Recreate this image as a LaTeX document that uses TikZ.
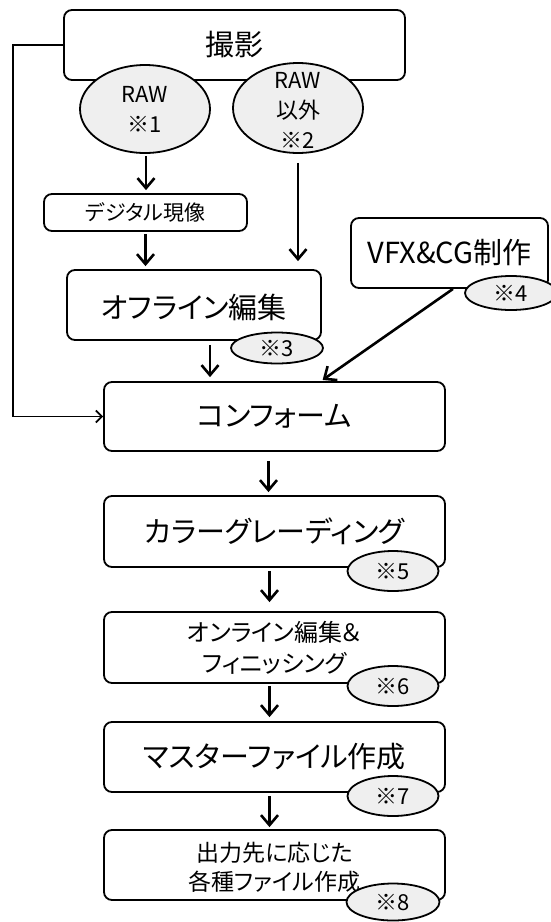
\documentclass[tikz,border=0pt]{standalone}
\usepackage{fontspec}
\setmainfont{Noto Sans CJK JP}[RawFeature=+palt]
\usetikzlibrary{shapes.geometric,arrows.meta}
\definecolor{ovalgray}{HTML}{EFEFEF}
\begin{document}
\begin{tikzpicture}[x=1pt,y=-1pt,
  box/.style={draw, line width=1.8pt, rounded corners=8pt, inner sep=0pt},
  oval/.style={draw, line width=1.8pt, ellipse, fill=ovalgray, inner sep=0pt},
  big/.style={font=\fontsize{29}{34}\selectfont},
  mid/.style={font=\fontsize{23}{29}\selectfont, align=center},
  small/.style={font=\fontsize{22}{30}\selectfont, align=center, inner sep=0pt},
  arr/.style={line width=2.6pt, -{Straight Barb[length=10pt,width=17pt,line width=2.6pt]}},
  thinarr/.style={line width=1.8pt, -{Straight Barb[length=6pt,width=12pt,line width=1.8pt]}}]
\useasboundingbox (0,0) rectangle (550,922);

% boxes
\node[box, minimum width=341pt, minimum height=70pt] (shoot) at (234.5,45) {};
\node[big] at (shoot.center) {撮影};
\node[box, minimum width=203pt, minimum height=37pt] (digi) at (145.5,212.5) {};
\node[font=\fontsize{21}{26}\selectfont] at (digi.center) {デジタル現像};
\node[box, minimum width=254pt, minimum height=70pt] (offline) at (194,305) {};
\node[big] at ([yshift=-2pt]offline.center) {オフライン編集};
\node[box, minimum width=197pt, minimum height=70pt] (vfx) at (449.5,253) {};
\node[big] at (vfx.center) {VFX\&CG制作};
\node[box, minimum width=341pt, minimum height=69pt] (conform) at (274.5,416.5) {};
\node[big] at (conform.center) {コンフォーム};
\node[box, minimum width=341pt, minimum height=71pt] (color) at (274.5,531.5) {};
\node[big] at (color.center) {カラーグレーディング};
\node[box, minimum width=341pt, minimum height=71pt] (online) at (274.5,647.5) {};
\node[mid, font=\fontsize{24}{31}\selectfont] at (online.center) {オンライン編集＆\\フィニッシング};
\node[box, minimum width=341pt, minimum height=70pt] (master) at (274.5,757) {};
\node[big] at (master.center) {マスターファイル作成};
\node[box, minimum width=341pt, minimum height=70pt] (output) at (274.5,865) {};
\node[mid] at ([yshift=-2pt]output.center) {出力先に応じた\\各種ファイル作成};

% ovals
\node[oval, minimum width=130pt, minimum height=88pt] (raw1) at (145,109) {};
\node[small] at (raw1.center) {RAW\\※1};
\node[oval, minimum width=130pt, minimum height=90pt] (raw2) at (298,108) {};
\node[small] at ([yshift=-2pt]raw2.center) {RAW\\以外\\※2};
\node[oval, minimum width=92pt, minimum height=31pt] (n3) at (277,348) {};
\node[small] at (n3.center) {※3};
\node[oval, minimum width=92pt, minimum height=34pt] (n4) at (511,293) {};
\node[small] at (n4.center) {※4};
\node[oval, minimum width=91pt, minimum height=40pt] (n5) at (393,571) {};
\node[small] at (n5.center) {※5};
\node[oval, minimum width=91pt, minimum height=40pt] (n6) at (393,686) {};
\node[small] at (n6.center) {※6};
\node[oval, minimum width=91pt, minimum height=40pt] (n7) at (393,796) {};
\node[small] at (n7.center) {※7};
\node[oval, minimum width=93pt, minimum height=37pt] (n8) at (393,902) {};
\node[small] at (n8.center) {※8};

% connectors
\draw[arr] ([xshift=1pt,yshift=-2pt]raw1.south) -- ([xshift=1pt]raw1.south |- digi.north) [shorten >=3pt];
\draw[arr, shorten >=8pt] ([yshift=-9pt]raw2.south) -- (raw2.south |- offline.north);
\draw[arr, shorten >=3pt] ([yshift=-2pt]digi.south) -- (digi.south |- offline.north);
\draw[arr, shorten >=4pt] ([xshift=16pt,yshift=-4pt]offline.south) -- ([xshift=16pt]offline.south |- conform.north);
\draw[arr, shorten >=2pt] ([xshift=3.5pt]vfx.south) -- ([xshift=46.5pt]conform.north);
\draw[thinarr] (shoot.west) -- ++(-50,0) |- (conform.west);
\draw[arr, shorten >=3pt] ([xshift=-6pt,yshift=-9pt]conform.south) -- ([xshift=-6pt]conform.south |- color.north);
\draw[arr, shorten >=9pt] ([xshift=-5pt,yshift=-3pt]color.south) -- ([xshift=-5pt]color.south |- online.north);
\draw[arr, shorten >=4pt] ([xshift=-5pt,yshift=-2pt]online.south) -- ([xshift=-5pt]online.south |- master.north);
\draw[arr, shorten >=2pt] ([xshift=-5pt,yshift=-3pt]master.south) -- ([xshift=-5pt]master.south |- output.north);
\end{tikzpicture}
\end{document}
